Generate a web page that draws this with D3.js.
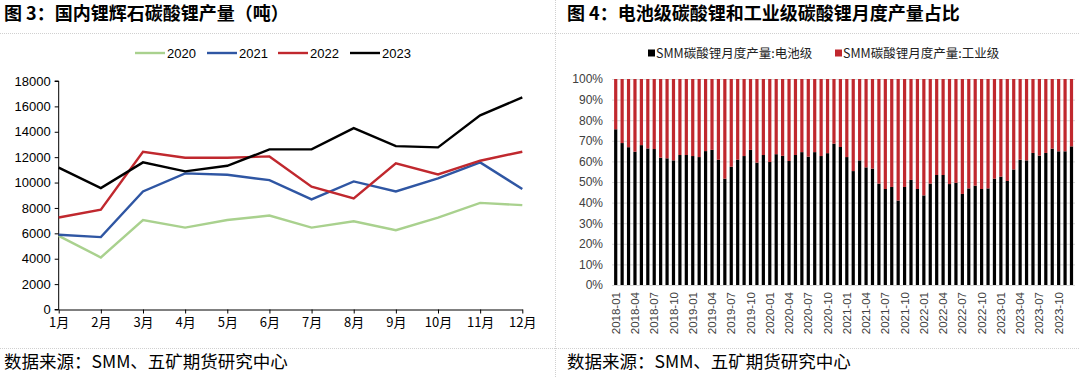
<!DOCTYPE html>
<html>
<head>
<meta charset="utf-8">
<script src="https://cdn.jsdelivr.net/npm/d3@7"></script>
<style>
  body { margin: 0; background: #fff; }
  svg { display: block; }
</style>
</head>
<body>
<div id="chart"></div>
<script>
// --- left chart data: monthly output (tons) ---
const MONTHS = ["1月","2月","3月","4月","5月","6月","7月","8月","9月","10月","11月","12月"];
const YEARS = ["2020", "2021", "2022", "2023"];
const Y2020 = [5800, 4100, 7050, 6450, 7050, 7400, 6450, 6950, 6250, 7230, 8400, 8220];
const Y2021 = [5890, 5700, 9300, 10720, 10610, 10190, 8670, 10090, 9300, 10330, 11590, 9490];
const Y2022 = [7250, 7860, 12430, 11950, 11950, 12060, 9670, 8750, 11510, 10640, 11720, 12430];
const Y2023 = [11170, 9560, 11590, 10880, 11320, 12610, 12610, 14290, 12870, 12770, 15290, 16710];
const LINE_COLORS = ["#a9d18e", "#2f56a3", "#c0282e", "#000000"];
const LEFT_TICKS = [0, 2000, 4000, 6000, 8000, 10000, 12000, 14000, 16000, 18000];

// --- right chart data: battery-grade share (%), 2018-01 .. 2023-12 ---
const BATTERY_SHARE = [
  75.6, 68.9, 66.9, 64.7, 67.9, 66.3, 66.0, 61.8, 61.5, 60.5, 63.1, 63.1,
  62.6, 62.1, 65.0, 65.6, 60.8, 51.6, 57.4, 60.8, 62.6, 65.6, 59.4, 63.1,
  59.7, 63.5, 62.7, 60.2, 63.1, 64.5, 62.3, 64.5, 62.6, 64.0, 68.6, 67.0,
  62.1, 55.3, 60.5, 57.1, 56.5, 49.2, 46.6, 47.6, 41.0, 47.6, 51.0, 46.6,
  43.5, 49.2, 53.4, 53.4, 49.0, 49.6, 44.2, 46.9, 48.2, 46.6, 46.9, 51.6,
  52.6, 50.5, 56.1, 60.8, 60.5, 64.1, 62.8, 64.1, 66.2, 64.9, 64.9, 67.3
];
const RIGHT_TICKS = [0, 10, 20, 30, 40, 50, 60, 70, 80, 90, 100];
const LEGEND_RIGHT = ["SMM碳酸锂月度产量:电池级", "SMM碳酸锂月度产量:工业级"];
const BAR_COLORS = ["#000000", "#c0282e"];

const monthLabels = [];
for (let y = 2018; y <= 2023; y++) {
  for (let m = 1; m <= 12; m++) monthLabels.push(y + "-" + String(m).padStart(2, "0"));
}

const W = 1080, H = 378;
const CJK = "'Noto Sans CJK SC', 'Noto Sans', sans-serif";
const LAT = "'Liberation Sans', Arial, sans-serif";

const svg = d3.select("#chart").append("svg")
  .attr("width", W).attr("height", H);

// --- frame: titles, separators, source ---
svg.append("line").attr("x1", 0).attr("x2", W).attr("y1", 33.5).attr("y2", 33.5)
  .attr("stroke", "#d0d0d0").attr("stroke-dasharray", "1,1");
svg.append("line").attr("x1", 0).attr("x2", W).attr("y1", 348.5).attr("y2", 348.5)
  .attr("stroke", "#d0d0d0").attr("stroke-dasharray", "1,1");
svg.append("line").attr("x1", 555.5).attr("x2", 555.5).attr("y1", 0).attr("y2", H)
  .attr("stroke", "#d0d0d0").attr("stroke-dasharray", "1,1");

svg.append("text").attr("x", 4).attr("y", 20)
  .style("font-family", CJK).style("font-size", "18px").style("font-weight", "bold")
  .text("图 3：国内锂辉石碳酸锂产量（吨）");
svg.append("text").attr("x", 567).attr("y", 20)
  .style("font-family", CJK).style("font-size", "18px").style("font-weight", "bold")
  .text("图 4：电池级碳酸锂和工业级碳酸锂月度产量占比");

[4, 567].forEach(x => {
  svg.append("text").attr("x", x).attr("y", 368)
    .style("font-family", CJK).style("font-size", "17.5px")
    .text("数据来源：SMM、五矿期货研究中心");
});

// --- left line chart ---
const lx = d3.scalePoint().domain(MONTHS).range([58.7, 522.3]);
const ly = d3.scaleLinear().domain([0, 18000]).range([309.5, 81]);

const gL = svg.append("g");
gL.append("g")
  .attr("transform", "translate(58.7,0)")
  .call(d3.axisLeft(ly).tickValues(LEFT_TICKS).tickSize(4).tickPadding(4).tickFormat(d3.format("d")))
  .call(g => g.selectAll("text").style("font-family", LAT).style("font-size", "13px").attr("fill", "#000"))
  .call(g => g.selectAll("line,path").attr("stroke", "#000"))
  .call(g => g.select(".domain").attr("d", "M-4,81H0V309.5H-4"));

gL.append("g")
  .attr("transform", "translate(0,309.5)")
  .call(d3.axisBottom(lx).tickSize(4).tickPadding(4).tickSizeOuter(0))
  .call(g => g.selectAll("text").style("font-family", CJK).style("font-size", "13px").attr("fill", "#000"))
  .call(g => g.selectAll("line,path").attr("stroke", "#000"));

const series = [Y2020, Y2021, Y2022, Y2023];
const line = d3.line().x((d, i) => lx(MONTHS[i])).y(d => ly(d));
series.forEach((s, i) => {
  gL.append("path").datum(s)
    .attr("fill", "none").attr("stroke", LINE_COLORS[i]).attr("stroke-width", 2.4)
    .attr("d", line);
});

// left legend
const legX = [135, 207, 278, 350];
YEARS.forEach((yr, i) => {
  const g = gL.append("g").attr("transform", `translate(${legX[i]},53)`);
  g.append("line").attr("x1", 0).attr("x2", 30).attr("stroke", LINE_COLORS[i]).attr("stroke-width", 2.4);
  g.append("text").attr("x", 32).attr("y", 4.5)
    .style("font-family", LAT).style("font-size", "13px").text(yr);
});

// --- right stacked bar chart ---
const rx = d3.scaleBand().domain(monthLabels).range([612.5, 1074.7]).paddingInner(0.5).paddingOuter(0.25);
const ry = d3.scaleLinear().domain([0, 100]).range([285, 79]);

const gR = svg.append("g");
gR.append("g").selectAll("line").data(RIGHT_TICKS).enter().append("line")
  .attr("x1", 612).attr("x2", 1075)
  .attr("y1", d => ry(d) + 0.5).attr("y2", d => ry(d) + 0.5)
  .attr("stroke", "#d9d9d9").attr("stroke-width", 1);

gR.append("g")
  .attr("transform", "translate(612,0)")
  .call(d3.axisLeft(ry).tickValues(RIGHT_TICKS).tickSize(0).tickPadding(9).tickFormat(d => d + "%"))
  .call(g => g.select(".domain").remove())
  .call(g => g.selectAll("text").style("font-family", LAT).style("font-size", "12px").attr("fill", "#404040"));

gR.selectAll(".bat").data(BATTERY_SHARE).enter().append("rect")
  .attr("x", (d, i) => rx(monthLabels[i])).attr("width", rx.bandwidth())
  .attr("y", d => ry(d)).attr("height", d => ry(0) - ry(d))
  .attr("fill", BAR_COLORS[0]);
gR.selectAll(".ind").data(BATTERY_SHARE).enter().append("rect")
  .attr("x", (d, i) => rx(monthLabels[i])).attr("width", rx.bandwidth())
  .attr("y", ry(100)).attr("height", d => ry(d) - ry(100))
  .attr("fill", BAR_COLORS[1]);

gR.append("g")
  .attr("transform", "translate(0,285)")
  .call(d3.axisBottom(rx).tickValues(monthLabels.filter((d, i) => i % 3 === 0)).tickSize(0))
  .call(g => g.select(".domain").remove())
  .call(g => g.selectAll("text")
    .style("font-family", LAT).style("font-size", "11.5px").attr("fill", "#404040")
    .attr("text-anchor", "end").attr("dy", "0.35em")
    .attr("transform", "translate(0,7) rotate(-90)").attr("x", 0).attr("y", 0));

// right legend
const legRX = [648, 835];
LEGEND_RIGHT.forEach((t, i) => {
  const g = gR.append("g").attr("transform", `translate(${legRX[i]},53)`);
  g.append("rect").attr("x", 0).attr("y", -3.5).attr("width", 7).attr("height", 7).attr("fill", BAR_COLORS[i]);
  g.append("text").attr("x", 8).attr("y", 4.5)
    .style("font-family", CJK).style("font-size", "12.5px").attr("fill", "#222").text(t);
});
</script>
</body>
</html>
